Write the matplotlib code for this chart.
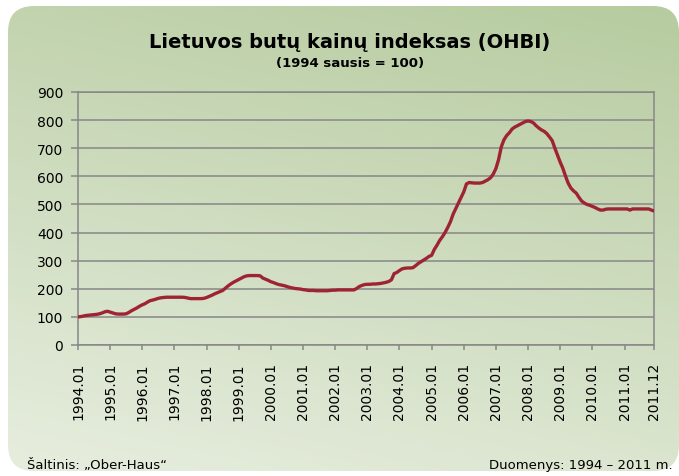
import numpy as np
import matplotlib.pyplot as plt
from matplotlib.patches import FancyBboxPatch
from matplotlib.colors import LinearSegmentedColormap

# monthly index values, 1994.01 - 2011.12 (1994 January = 100)
ohbi = [
    100, 101, 103, 105, 106, 107, 108, 109, 111, 114, 118, 120,   # 1994
    117, 114, 111, 110, 110, 110, 111, 116, 122, 127, 132, 138,   # 1995
    143, 147, 153, 158, 160, 163, 166, 168, 169, 170, 170, 170,   # 1996
    170, 170, 170, 170, 169, 167, 165, 165, 165, 165, 165, 166,   # 1997
    169, 173, 177, 182, 186, 190, 194, 202, 210, 217, 223, 228,   # 1998
    233, 238, 243, 246, 247, 247, 247, 247, 246, 238, 234, 230,   # 1999
    225, 222, 218, 215, 213, 211, 208, 205, 203, 201, 200, 199,   # 2000
    197, 196, 194, 194, 194, 193, 193, 193, 193, 193, 194, 195,   # 2001
    195, 196, 196, 196, 196, 196, 196, 196, 201, 208, 212, 215,   # 2002
    216, 216, 217, 217, 218, 219, 221, 223, 226, 232, 254, 258,   # 2003
    265, 271, 273, 274, 274, 275, 282, 290, 296, 302, 308, 315,   # 2004
    319, 340, 355, 372, 385, 400, 418, 438, 465, 485, 505, 525,   # 2005
    545, 573, 578, 577, 576, 576, 576, 578, 583, 588, 595, 608,   # 2006
    628, 660, 705, 730, 745, 755, 768, 775, 780, 785, 790, 795,   # 2007
    797, 795, 790, 780, 772, 765, 760, 752, 740, 727, 700, 675,   # 2008
    650, 628, 600, 575, 558, 548, 540, 525, 512, 505, 500, 497,   # 2009
    493, 489, 484, 480, 480, 483, 484, 484, 484, 484, 484, 484,   # 2010
    484, 484, 480, 484, 484, 484, 484, 484, 484, 484, 480, 477,   # 2011
]
months = [f'{y}.{m:02d}' for y in range(1994, 2012) for m in range(1, 13)]
tick_labels = [f'{y}.01' for y in range(1994, 2012)] + ['2011.12']

W, H = 679, 477
fig = plt.figure(figsize=(W / 100, H / 100), dpi=100)

# background: rounded box with green gradient
bg = fig.add_axes([0, 0, 1, 1], zorder=-1)
bg.set_xlim(0, W)
bg.set_ylim(H, 0)
bg.axis('off')
yy, xx = np.mgrid[0:1:200j, 0:1:200j]
grad = 0.8 * yy + 0.25 * (1 - xx)
cmap = LinearSegmentedColormap.from_list('bg', ['#b6cb9f', '#e5ecdc'])
im = bg.imshow(grad, cmap=cmap, extent=(0, W, H, 0), aspect='auto', vmin=0, vmax=1)
box = FancyBboxPatch((8, 7), W - 8, 465, boxstyle='round,pad=0,rounding_size=26',
                     fc='none', ec='none', transform=bg.transData)
bg.add_patch(box)
im.set_clip_path(box)

# main chart
ax = fig.add_axes([78 / W, 1 - 346 / H, (654 - 78) / W, (346 - 93) / H])
ax.set_facecolor('none')
x = np.arange(len(months))
ax.plot(x, ohbi, color='#9e2333', lw=2.4, solid_joinstyle='round', zorder=3)

ax.set_xlim(0, len(months) - 1)
ax.set_ylim(0, 900)
ax.set_yticks(range(0, 1000, 100))
ax.set_xticks([months.index(t) for t in tick_labels])
ax.set_xticklabels(tick_labels, rotation=90)
ax.xaxis.grid(False)
ax.yaxis.grid(True, color='#878787', lw=1.1)
for s in ax.spines.values():
    s.set_color('#878787')
    s.set_linewidth(1.1)
ax.tick_params(axis='y', length=4.7, width=1.1, color='#878787', pad=6, labelsize=10)
ax.tick_params(axis='x', length=3.8, width=1.1, color='#878787', pad=8.5, labelsize=10)

fig.text(350 / W, 1 - 43 / H, 'Lietuvos butų kainų indeksas (OHBI)', ha='center', va='center',
         fontsize=14, fontweight='bold')
fig.text(350 / W, 1 - 64 / H, '(1994 sausis = 100)', ha='center', va='center',
         fontsize=9.5, fontweight='bold')
fig.text(27 / W, 1 - 466 / H, 'Šaltinis: „Ober-Haus“', ha='left', va='center', fontsize=9.5)
fig.text(673 / W, 1 - 466 / H, 'Duomenys: 1994 – 2011 m.', ha='right', va='center', fontsize=9.5)

plt.savefig('out.png', dpi=100)
